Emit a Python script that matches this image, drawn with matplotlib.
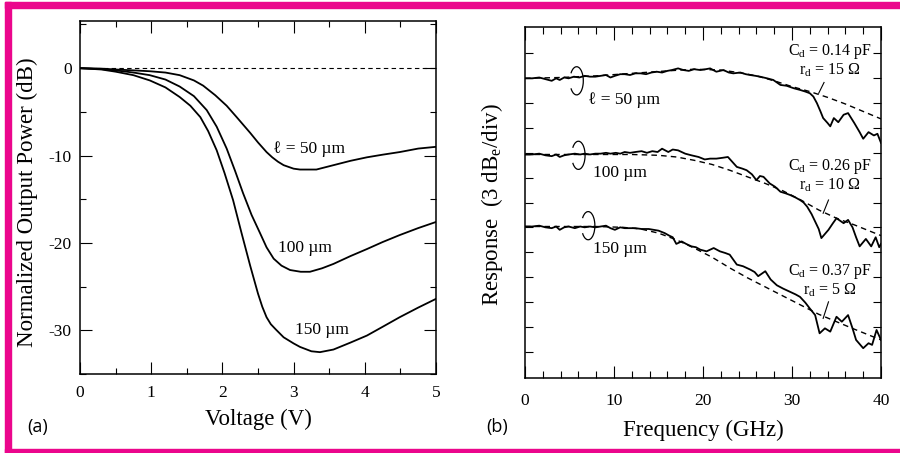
import matplotlib
matplotlib.use('Agg')
import matplotlib.pyplot as plt
from matplotlib.patches import Arc, Rectangle
from matplotlib.ticker import MultipleLocator, FixedLocator, NullFormatter
import numpy as np

plt.rcParams['font.family'] = ['Liberation Serif', 'DejaVu Serif']
plt.rcParams['mathtext.fontset'] = 'custom'
plt.rcParams['mathtext.rm'] = 'Liberation Serif'
plt.rcParams['axes.unicode_minus'] = False

# ---- (a) output power vs. bias voltage ----
volt_50 = [0, 0.3, 0.5, 0.75, 0.98, 1.2, 1.4, 1.6, 1.73, 1.9, 2.06, 2.2, 2.39, 2.5, 2.62,
           2.7, 2.78, 2.86, 3.0, 3.09, 3.32, 3.56, 3.8, 4.03, 4.25, 4.49, 4.75, 5.0]
power_50 = [0, -0.05, -0.15, -0.25, -0.35, -0.5, -0.8, -1.4, -2.0, -3.1, -4.3, -5.6, -7.4, -8.5, -9.6,
            -10.2, -10.7, -11.1, -11.5, -11.6, -11.6, -11.1, -10.6, -10.2, -9.9, -9.6, -9.2, -9.0]

volt_100 = [0, 0.3, 0.5, 0.75, 0.98, 1.2, 1.4, 1.6, 1.78, 1.92, 2.06, 2.18, 2.29, 2.41, 2.53,
            2.62, 2.72, 2.83, 2.95, 3.1, 3.23, 3.4, 3.56, 3.8, 4.03, 4.25, 4.49, 4.75, 5.0]
power_100 = [0, -0.1, -0.25, -0.5, -0.8, -1.3, -2.1, -3.2, -4.8, -6.7, -9.2, -11.8, -14.3, -16.8, -18.9,
             -20.5, -21.8, -22.6, -23.1, -23.3, -23.3, -22.9, -22.4, -21.5, -20.7, -19.9, -19.1, -18.3, -17.6]

volt_150 = [0, 0.3, 0.5, 0.75, 0.98, 1.2, 1.4, 1.55, 1.69, 1.8, 1.92, 2.03, 2.15, 2.27, 2.39,
            2.5, 2.56, 2.62, 2.68, 2.75, 2.86, 3.0, 3.09, 3.25, 3.37, 3.56, 3.8, 4.03, 4.25, 4.49, 4.75, 5.0]
power_150 = [0, -0.15, -0.4, -0.8, -1.4, -2.2, -3.3, -4.3, -5.6, -7.2, -9.4, -12.0, -15.1, -18.9, -22.6,
             -25.8, -27.3, -28.5, -29.3, -29.9, -30.8, -31.5, -31.9, -32.4, -32.5, -32.2, -31.4, -30.6,
             -29.6, -28.5, -27.4, -26.4]

# ---- (b) frequency response, measured (solid) and RC fit (dashed) ----
freq_50 = [0.0, 0.8, 1.6, 2.3, 3.0, 3.5, 3.9, 4.4, 4.9, 5.5, 6.1, 6.7, 7.3, 7.9, 8.5, 9.1, 9.6, 10.1,
           10.7, 11.2, 11.8, 12.4, 13.0, 13.6, 14.2, 14.8, 15.4, 16.0, 16.5, 17.2, 17.8, 18.4, 19.0,
           19.7, 20.3, 20.8, 21.5, 22.3, 22.9, 23.4, 24.2, 24.8, 25.3, 25.9, 26.4, 27.2, 27.9, 28.7,
           29.4, 30.2, 30.9, 31.5, 32.0, 32.4, 32.8, 33.2, 33.5, 34.0, 34.3, 34.7, 35.2, 35.8, 36.3,
           37.0, 37.6, 38.0, 38.6, 39.2, 39.6, 40.0]
resp_50 = [36.0, 36.0, 36.1, 35.9, 35.7, 36.0, 35.8, 36.1, 36.0, 36.2, 36.1, 36.3, 36.2, 36.2, 36.3, 36.4, 36.1, 36.3,
           36.5, 36.5, 36.4, 36.6, 36.6, 36.5, 36.7, 36.8, 36.7, 36.9, 37.0, 37.2, 37.0, 36.9, 37.1,
           37.0, 37.1, 37.2, 36.8, 37.0, 36.7, 36.6, 36.7, 36.5, 36.4, 36.3, 36.2, 36.0, 35.8, 35.2,
           35.1, 34.8, 34.6, 34.4, 34.2, 33.8, 33.0, 32.0, 31.2, 30.6, 30.2, 31.2, 30.7, 31.6, 31.8,
           30.6, 29.5, 28.7, 29.5, 29.1, 29.3, 28.2]
fit_freq_50 = [0, 4, 8, 12, 16, 19, 22, 24, 26, 28, 30, 32, 34, 36, 38, 40]
fit_50 = [36.0, 36.1, 36.3, 36.6, 36.9, 37.1, 37.0, 36.7, 36.3, 35.7, 35.0, 34.4, 33.7, 32.9, 32.0, 31.1]

freq_100 = [0.0, 0.8, 1.6, 2.3, 3.0, 3.5, 3.9, 4.4, 4.9, 5.6, 6.2, 6.7, 7.3, 7.9, 8.5, 9.1, 9.6, 10.2,
            10.7, 11.2, 11.8, 12.4, 13.1, 13.7, 14.3, 14.9, 15.4, 16.1, 16.6, 17.2, 18.0, 18.7, 19.5,
            20.2, 20.8, 21.5, 22.2, 22.8, 23.3, 23.8, 24.4, 24.9, 25.5, 26.0, 26.4, 26.8, 27.5, 28.1,
            28.7, 29.3, 29.8, 30.4, 30.9, 31.3, 31.7, 32.2, 32.6, 33.0, 33.3, 33.7, 34.1, 34.6, 35.0,
            35.4, 35.8, 36.3, 36.8, 37.2, 37.6, 38.3, 38.9, 39.4, 39.8, 40.0]
resp_100 = [26.8, 26.8, 26.9, 26.7, 26.6, 26.8, 26.5, 26.7, 26.8, 26.9, 26.8, 26.9, 26.8, 26.9, 26.9, 27.0, 26.9, 27.0,
            26.9, 27.1, 27.0, 27.1, 27.2, 27.0, 27.2, 27.1, 27.5, 27.1, 27.4, 27.3, 26.9, 26.7, 26.5,
            26.2, 26.3, 26.3, 26.4, 26.5, 25.9, 25.3, 25.1, 24.9, 24.4, 23.7, 24.2, 24.1, 23.3, 22.9,
            22.3, 22.1, 21.9, 21.6, 21.3, 21.0, 20.5, 19.6, 18.7, 17.8, 16.7, 17.2, 17.7, 18.5, 19.1,
            18.8, 18.5, 18.9, 18.0, 16.8, 15.7, 16.6, 15.7, 16.8, 15.6, 16.0]
fit_freq_100 = [0, 4, 8, 12, 15, 17, 19, 21, 23, 25, 27, 29, 31, 33, 35, 37, 40]
fit_100 = [26.8, 26.8, 26.8, 26.8, 26.7, 26.5, 26.1, 25.6, 24.9, 24.1, 23.3, 22.4, 21.3, 20.1, 19.1, 18.3, 17.0]

freq_150 = [0.0, 0.8, 1.6, 2.3, 3.0, 3.5, 3.9, 4.4, 4.9, 5.6, 6.2, 6.7, 7.3, 7.9, 8.5, 9.1, 9.6, 10.1,
            10.7, 11.2, 11.8, 12.4, 13.1, 13.9, 15.0, 15.7, 16.2, 16.6, 17.0, 17.6, 18.1, 18.7, 19.2,
            19.7, 20.4, 21.2, 21.9, 22.5, 23.0, 23.8, 24.5, 25.3, 25.8, 26.2, 27.0, 27.6, 28.3, 29.0,
            29.8, 30.4, 30.9, 31.5, 32.0, 32.6, 33.1, 33.7, 34.3, 35.0, 35.6, 36.3, 36.8, 37.2, 38.0,
            38.6, 39.0, 39.5, 40.0]
resp_150 = [18.1, 18.1, 18.2, 18.0, 17.9, 18.1, 17.7, 18.0, 18.1, 17.9, 18.1, 18.0, 18.1, 18.0, 18.1, 18.2, 17.9, 17.7,
            18.0, 17.9, 17.9, 17.9, 17.8, 17.8, 17.6, 17.3, 17.0, 16.8, 16.0, 16.3, 16.0, 15.7, 15.6,
            15.3, 15.1, 15.5, 15.1, 14.9, 14.7, 13.5, 13.3, 12.9, 12.6, 12.1, 12.7, 11.7, 11.0, 10.6,
            10.2, 9.9, 9.6, 8.9, 8.2, 7.4, 5.2, 5.8, 5.4, 7.2, 6.6, 7.4, 5.8, 4.4, 3.4,
            4.0, 3.8, 5.6, 4.4]
fit_freq_150 = [0, 4, 8, 11, 13, 15, 17, 19, 21, 23, 25, 27, 29, 31, 33, 35, 37, 40]
fit_150 = [18.1, 18.1, 18.1, 18.0, 17.8, 17.3, 16.5, 15.5, 14.4, 13.1, 11.9, 10.8, 9.7, 8.6, 7.5, 6.6, 5.7, 4.4]

LABEL_FS = 16.5
TICK_FS = 12.5
NOTE_FS = 12.5
PARAM_FS = 11.5


def style_axes(ax):
    for s in ax.spines.values():
        s.set_linewidth(1.1)
    ax.tick_params(which='both', direction='in', top=True, right=True, width=0.8)


def plot_voltage(ax):
    ax.axhline(0, color='black', lw=0.8, ls=(0, (4, 3)))
    ax.plot(volt_50, power_50, color='black', lw=1.3)
    ax.plot(volt_100, power_100, color='black', lw=1.3)
    ax.plot(volt_150, power_150, color='black', lw=1.3)

    ax.set_xlim(0, 5)
    ax.set_ylim(-35, 5.4)
    ax.xaxis.set_major_locator(MultipleLocator(1))
    ax.xaxis.set_minor_locator(MultipleLocator(0.5))
    ax.yaxis.set_major_locator(FixedLocator([0, -10, -20, -30]))
    ax.yaxis.set_minor_locator(MultipleLocator(5))
    style_axes(ax)
    ax.tick_params(which='major', length=8.5, labelsize=TICK_FS)
    ax.tick_params(which='minor', length=4.5)
    ax.tick_params(axis='x', which='major', pad=8)
    ax.tick_params(axis='y', which='major', pad=6)

    ax.text(2.71, -9.2, '\u2113 = 50 \u00b5m', fontsize=NOTE_FS, va='center')
    ax.text(2.78, -20.6, '100 \u00b5m', fontsize=NOTE_FS, va='center')
    ax.text(3.02, -30.0, '150 \u00b5m', fontsize=NOTE_FS, va='center')

    ax.set_xlabel('Voltage (V)', fontsize=LABEL_FS)
    ax.set_ylabel('Normalized Output Power (dB)', fontsize=LABEL_FS)
    ax.xaxis.set_label_coords(0.5, -0.1)
    ax.yaxis.set_label_coords(-0.118, 0.487)


def plot_response(ax):
    groups = [
        (freq_50, resp_50, fit_freq_50, fit_50),
        (freq_100, resp_100, fit_freq_100, fit_100),
        (freq_150, resp_150, fit_freq_150, fit_150),
    ]
    for f, r, ff, fr in groups:
        ax.plot(ff, fr, color='black', lw=1.0, ls=(0, (4, 3)))
        ax.plot(f, r, color='black', lw=1.3)

    # little loops marking each trace
    for cx, cy in [(5.8, 35.7), (6.0, 26.7), (7.1, 18.2)]:
        ax.add_patch(Arc((cx, cy), 1.5, 3.4, theta1=-125, theta2=125, color='black', lw=0.9))

    ax.text(7.1, 33.4, '\u2113 = 50 \u00b5m', fontsize=NOTE_FS, va='center')
    ax.text(7.6, 24.6, '100 \u00b5m', fontsize=NOTE_FS, va='center')
    ax.text(7.6, 15.4, '150 \u00b5m', fontsize=NOTE_FS, va='center')

    params = [
        ('0.14', '15', 39.2, 37.0, (33.0, 34.2, 33.6, 35.5)),
        ('0.26', '10', 25.3, 23.1, (33.5, 19.7, 34.1, 21.3)),
        ('0.37', '5', 12.65, 10.4, (33.5, 7.0, 34.1, 9.0)),
    ]
    for cd, rd, y_c, y_r, (x0, y0, x1, y1) in params:
        ax.text(39.0, y_c, 'C$_\\mathregular{d}$ = %s pF' % cd, fontsize=PARAM_FS,
                ha='right', va='center')
        ax.text(34.2, y_r, 'r$_\\mathregular{d}$ = %s \u03a9' % rd, fontsize=PARAM_FS,
                ha='center', va='center')
        ax.plot([x0, x1], [y0, y1], color='black', lw=0.8)

    ax.set_xlim(0, 40)
    ax.set_ylim(-0.2, 42.2)
    ax.xaxis.set_major_locator(MultipleLocator(10))
    ax.xaxis.set_minor_locator(MultipleLocator(2))
    ax.yaxis.set_major_locator(FixedLocator(np.arange(3, 40, 3)))
    ax.yaxis.set_major_formatter(NullFormatter())
    style_axes(ax)
    ax.tick_params(axis='x', which='major', length=9, labelsize=TICK_FS, pad=11)
    ax.tick_params(axis='x', which='minor', length=5)
    ax.tick_params(axis='y', which='major', length=5.5)

    ax.set_xlabel('Frequency (GHz)', fontsize=LABEL_FS)
    ax.set_ylabel('Response  (3 dB$_\\mathregular{e}$/div)', fontsize=LABEL_FS)
    ax.xaxis.set_label_coords(0.5, -0.12)
    ax.yaxis.set_label_coords(-0.056, 0.494)


def main():
    fig = plt.figure(figsize=(9, 4.53), dpi=100)
    W, H = 900.0, 453.0
    ax_a = fig.add_axes([80 / W, 1 - 374 / H, 356 / W, 353 / H])
    ax_b = fig.add_axes([525 / W, 1 - 378 / H, 356 / W, 351 / H])

    plot_voltage(ax_a)
    plot_response(ax_b)

    fig.text(27 / W, 1 - 427 / H, '(a)', fontsize=13, family='Open Sans', va='center')
    fig.text(486 / W, 1 - 427 / H, '(b)', fontsize=13, family='Open Sans', va='center')

    # magenta frame (left, top, bottom)
    pink = '#EB068C'
    for x, y, w, h in [(5, 0, 6, 451), (5, 445, 895, 6), (5, 0, 895, 4)]:
        fig.patches.append(Rectangle((x / W, y / H), w / W, h / H, transform=fig.transFigure,
                                     color=pink, zorder=10))

    fig.savefig('out.png', dpi=100, facecolor='white')
    plt.close(fig)


if __name__ == '__main__':
    main()
